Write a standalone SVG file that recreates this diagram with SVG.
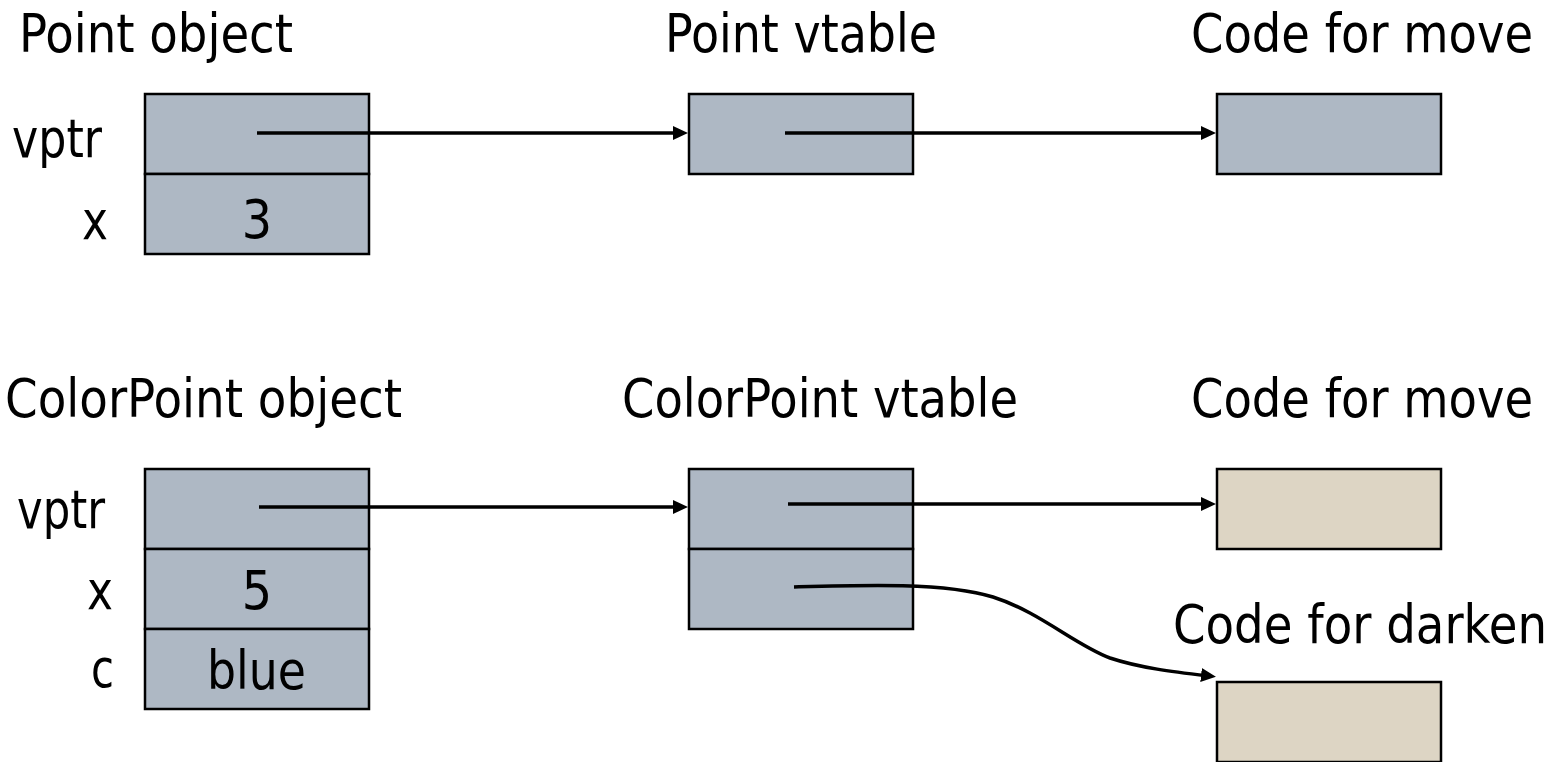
<svg xmlns="http://www.w3.org/2000/svg" width="1558" height="762" viewBox="0 0 1558 762">
<style>
  text { font-family: "DejaVu Sans Condensed", "DejaVu Sans", "Liberation Sans", sans-serif; font-stretch: condensed; font-size: 53px; fill: #000; }
  .mid { text-anchor: middle; }
  .cell { fill: #aeb8c4; stroke: #000; stroke-width: 2.5; }
  .code { fill: #ddd5c4; stroke: #000; stroke-width: 2.5; }
  .conn { fill: none; stroke: #000; stroke-width: 3.5; marker-end: url(#arr); }
</style>
<defs>
  <marker id="arr" markerUnits="userSpaceOnUse" markerWidth="18" markerHeight="16" refX="8" refY="7" orient="auto">
    <path d="M0,0 L15,7 L0,14 z" fill="#000"/>
  </marker>
</defs>
<rect width="1558" height="762" fill="#fff"/>

<g id="point-object">
  <text x="19" y="52" textLength="274" lengthAdjust="spacingAndGlyphs">Point object</text>
  <rect class="cell" x="145" y="94" width="224" height="80"/>
  <rect class="cell" x="145" y="174" width="224" height="80"/>
  <text x="12" y="157" textLength="90" lengthAdjust="spacingAndGlyphs">vptr</text>
  <text x="82" y="239" textLength="26" lengthAdjust="spacingAndGlyphs">x</text>
  <text class="mid" x="257" y="238">3</text>
</g>

<g id="point-vtable">
  <text x="665" y="52" textLength="272" lengthAdjust="spacingAndGlyphs">Point vtable</text>
  <rect class="cell" x="689" y="94" width="224" height="80"/>
</g>

<g id="point-code-move">
  <text x="1191" y="52" textLength="342" lengthAdjust="spacingAndGlyphs">Code for move</text>
  <rect class="cell" x="1217" y="94" width="224" height="80"/>
</g>

<g id="colorpoint-object">
  <text x="5" y="417" textLength="397" lengthAdjust="spacingAndGlyphs">ColorPoint object</text>
  <rect class="cell" x="145" y="469" width="224" height="80"/>
  <rect class="cell" x="145" y="549" width="224" height="80"/>
  <rect class="cell" x="145" y="629" width="224" height="80"/>
  <text x="17" y="528" textLength="88" lengthAdjust="spacingAndGlyphs">vptr</text>
  <text x="87" y="609" textLength="26" lengthAdjust="spacingAndGlyphs">x</text>
  <text class="mid" x="257" y="609">5</text>
  <text x="91" y="687" textLength="23" lengthAdjust="spacingAndGlyphs">c</text>
  <text x="207" y="689" textLength="99" lengthAdjust="spacingAndGlyphs">blue</text>
</g>

<g id="colorpoint-vtable">
  <text x="622" y="417" textLength="396" lengthAdjust="spacingAndGlyphs">ColorPoint vtable</text>
  <rect class="cell" x="689" y="469" width="224" height="80"/>
  <rect class="cell" x="689" y="549" width="224" height="80"/>
</g>

<g id="colorpoint-code-move">
  <text x="1191" y="417" textLength="342" lengthAdjust="spacingAndGlyphs">Code for move</text>
  <rect class="code" x="1217" y="469" width="224" height="80"/>
</g>

<g id="colorpoint-code-darken">
  <text x="1173" y="643" textLength="374" lengthAdjust="spacingAndGlyphs">Code for darken</text>
  <rect class="code" x="1217" y="682" width="224" height="80"/>
</g>

<g id="connectors">
  <path class="conn" d="M257,133 L681,133"/>
  <path class="conn" d="M785,133 L1209,133"/>
  <path class="conn" d="M259,507 L681,507"/>
  <path class="conn" d="M788,504 L1209,504"/>
  <path class="conn" d="M794,587 C860,585 945,582 993,597 C1040,612 1075,645 1110,658 C1140,668 1175,672 1209,676"/>
</g>
</svg>
